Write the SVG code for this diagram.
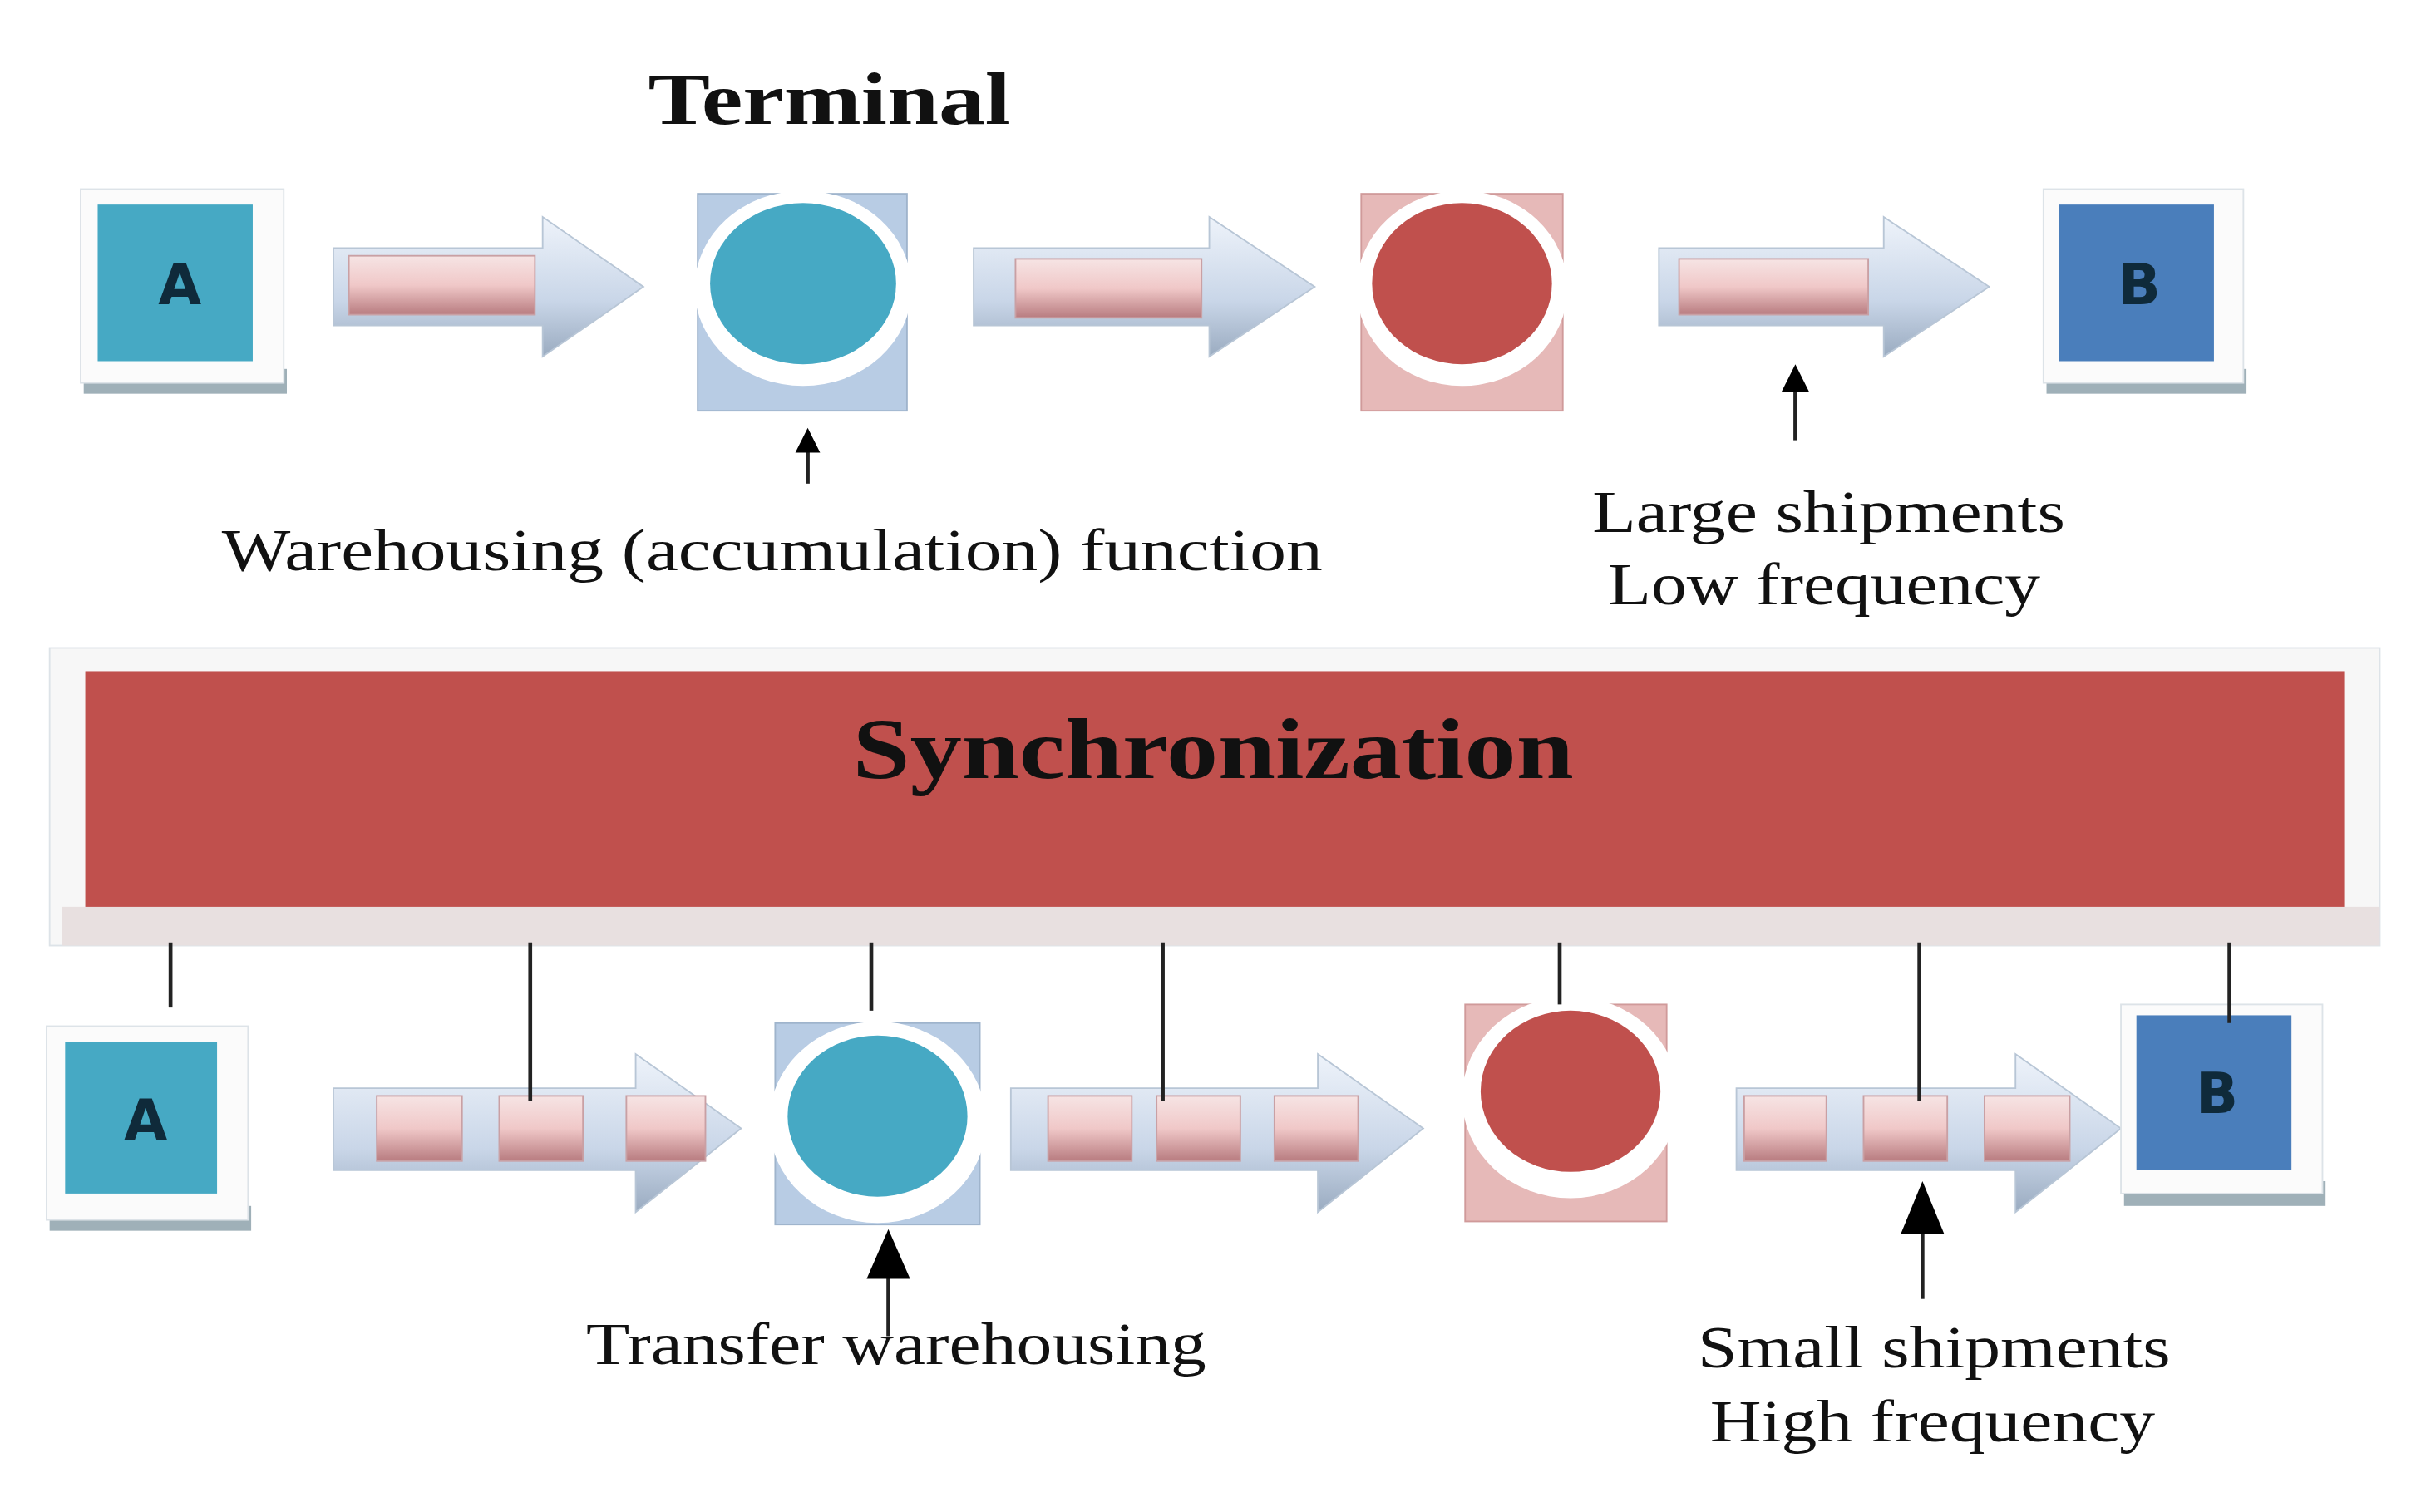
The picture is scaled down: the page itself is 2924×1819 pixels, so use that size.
<svg xmlns="http://www.w3.org/2000/svg" width="2924" height="1819" viewBox="0 0 2924 1819">
<defs>
<linearGradient id="shaft" x1="0" y1="0" x2="0" y2="1"><stop offset="0" stop-color="#eef3fa"/><stop offset="0.6" stop-color="#c9d6e8"/><stop offset="1" stop-color="#9aabc0"/></linearGradient>
<linearGradient id="pink" x1="0" y1="0" x2="0" y2="1"><stop offset="0" stop-color="#f6e4e4"/><stop offset="0.5" stop-color="#f0c8c8"/><stop offset="1" stop-color="#b87c80"/></linearGradient>
</defs>
<style>
.frame{fill:#fbfbfb;stroke:#dde3e8;stroke-width:1}
.shadow{fill:#9fb0b8}
.t{font-family:"Liberation Serif",serif;fill:#111}
.letter{font-family:"DejaVu Sans",sans-serif;font-weight:bold;font-size:36px;fill:#0f2a3a;text-anchor:middle}
.pk{fill:url(#pink);stroke:#c9a0a4;stroke-width:1}
.ln{stroke:#222;stroke-width:2.5;fill:none}
.hd{fill:#000}
</style>
<rect width="2924" height="1819" fill="#fff"/>
<g transform="scale(1.8648)">
<g id="top-A"><rect class="shadow" x="54" y="238" width="131" height="16"/><rect class="frame" x="52" y="122" width="131" height="125"/><rect x="63" y="132" width="100" height="101" fill="#46a9c4"/><text class="letter" x="116" y="196">A</text></g>
<g id="top-arrow1"><path d="M215,160 H350 V140 L415,185 L350,230 V210 H215 Z" fill="url(#shaft)" stroke="#b8c6d6"/><rect class="pk" x="225" y="165" width="120" height="38"/></g>
<g id="top-T1"><rect x="450" y="125" width="135" height="140" fill="#b8cce4" stroke="#9fb4cc"/><ellipse cx="518" cy="186" rx="70" ry="63" fill="#fff"/><ellipse cx="518" cy="183" rx="60" ry="52" fill="#46a9c4"/></g>
<g id="top-arrow2"><path d="M628,160 H780 V140 L848,185 L780,230 V210 H628 Z" fill="url(#shaft)" stroke="#b8c6d6"/><rect class="pk" x="655" y="167" width="120" height="38"/></g>
<g id="top-T2"><rect x="878" y="125" width="130" height="140" fill="#e6b9b8" stroke="#d09a9a"/><ellipse cx="943" cy="186" rx="68" ry="63" fill="#fff"/><ellipse cx="943" cy="183" rx="58" ry="52" fill="#c0504d"/></g>
<g id="top-arrow3"><path d="M1070,160 H1215 V140 L1283,185 L1215,230 V210 H1070 Z" fill="url(#shaft)" stroke="#b8c6d6"/><rect class="pk" x="1083" y="167" width="122" height="36"/></g>
<g id="top-B"><rect class="shadow" x="1320" y="238" width="129" height="16"/><rect class="frame" x="1318" y="122" width="129" height="125"/><rect x="1328" y="132" width="100" height="101" fill="#4a7ebb"/><text class="letter" x="1380" y="196">B</text></g>
<text class="t" x="418" y="80" font-size="48" font-weight="bold" textLength="234" lengthAdjust="spacingAndGlyphs">Terminal</text>
<text class="t" x="143" y="368" font-size="38" textLength="710" lengthAdjust="spacingAndGlyphs">Warehousing (accumulation) function</text>
<text class="t" x="1027" y="343" font-size="38" textLength="305" lengthAdjust="spacingAndGlyphs">Large shipments</text>
<text class="t" x="1037" y="390" font-size="38" textLength="279" lengthAdjust="spacingAndGlyphs">Low frequency</text>
<g id="sync"><rect x="32" y="418" width="1503" height="192" fill="#f7f7f7" stroke="#dde3e8"/><rect x="40" y="585" width="1495" height="25" fill="#e8e0e0"/><rect x="55" y="433" width="1457" height="152" fill="#c0504d"/><text class="t" x="550" y="502" font-size="56" font-weight="bold" textLength="465" lengthAdjust="spacingAndGlyphs">Synchronization</text></g>
<g id="bot-A"><rect class="shadow" x="32" y="778" width="130" height="16"/><rect class="frame" x="30" y="662" width="130" height="125"/><rect x="42" y="672" width="98" height="98" fill="#46a9c4"/><text class="letter" x="94" y="735">A</text></g>
<g id="bot-arrow1"><path d="M215,702 H410 V680 L478,728 L410,782 V755 H215 Z" fill="url(#shaft)" stroke="#b8c6d6"/><rect class="pk" x="243" y="707" width="55" height="42"/><rect class="pk" x="322" y="707" width="54" height="42"/><rect class="pk" x="404" y="707" width="51" height="42"/></g>
<g id="bot-T1"><rect x="500" y="660" width="132" height="130" fill="#b8cce4" stroke="#9fb4cc"/><ellipse cx="566" cy="724" rx="70" ry="65" fill="#fff"/><ellipse cx="566" cy="720" rx="58" ry="52" fill="#46a9c4"/></g>
<g id="bot-arrow2"><path d="M652,702 H850 V680 L918,728 L850,782 V755 H652 Z" fill="url(#shaft)" stroke="#b8c6d6"/><rect class="pk" x="676" y="707" width="54" height="42"/><rect class="pk" x="746" y="707" width="54" height="42"/><rect class="pk" x="822" y="707" width="54" height="42"/></g>
<g id="bot-T2"><rect x="945" y="648" width="130" height="140" fill="#e6b9b8" stroke="#d09a9a"/><ellipse cx="1013" cy="708" rx="70" ry="65" fill="#fff"/><ellipse cx="1013" cy="704" rx="58" ry="52" fill="#c0504d"/></g>
<g id="bot-arrow3"><path d="M1120,702 H1300 V680 L1368,728 L1300,782 V755 H1120 Z" fill="url(#shaft)" stroke="#b8c6d6"/><rect class="pk" x="1125" y="707" width="53" height="42"/><rect class="pk" x="1202" y="707" width="54" height="42"/><rect class="pk" x="1280" y="707" width="55" height="42"/></g>
<g id="bot-B"><rect class="shadow" x="1370" y="762" width="130" height="16"/><rect class="frame" x="1368" y="648" width="130" height="122"/><rect x="1378" y="655" width="100" height="100" fill="#4a7ebb"/><text class="letter" x="1430" y="718">B</text></g>
<text class="t" x="378" y="880" font-size="38" textLength="400" lengthAdjust="spacingAndGlyphs">Transfer warehousing</text>
<text class="t" x="1095" y="882" font-size="38" textLength="305" lengthAdjust="spacingAndGlyphs">Small shipments</text>
<text class="t" x="1103" y="930" font-size="38" textLength="287" lengthAdjust="spacingAndGlyphs">High frequency</text>
<g id="connectors">
<line class="ln" x1="110" y1="608" x2="110" y2="650"/>
<line class="ln" x1="342" y1="608" x2="342" y2="710"/>
<line class="ln" x1="562" y1="608" x2="562" y2="652"/>
<line class="ln" x1="750" y1="608" x2="750" y2="710"/>
<line class="ln" x1="1006" y1="608" x2="1006" y2="648"/>
<line class="ln" x1="1238" y1="608" x2="1238" y2="710"/>
<line class="ln" x1="1438" y1="608" x2="1438" y2="660"/>
<line class="ln" x1="521" y1="312" x2="521" y2="290"/><path class="hd" d="M521,276 L529,292 L513,292 Z"/>
<line class="ln" x1="1158" y1="284" x2="1158" y2="250"/><path class="hd" d="M1158,235 L1167,253 L1149,253 Z"/>
<line class="ln" x1="573" y1="862" x2="573" y2="815" stroke-width="3.5"/><path class="hd" d="M573,793 L587,825 L559,825 Z"/>
<line class="ln" x1="1240" y1="838" x2="1240" y2="785" stroke-width="3.5"/><path class="hd" d="M1240,762 L1254,796 L1226,796 Z"/>
</g>
</g>
</svg>
